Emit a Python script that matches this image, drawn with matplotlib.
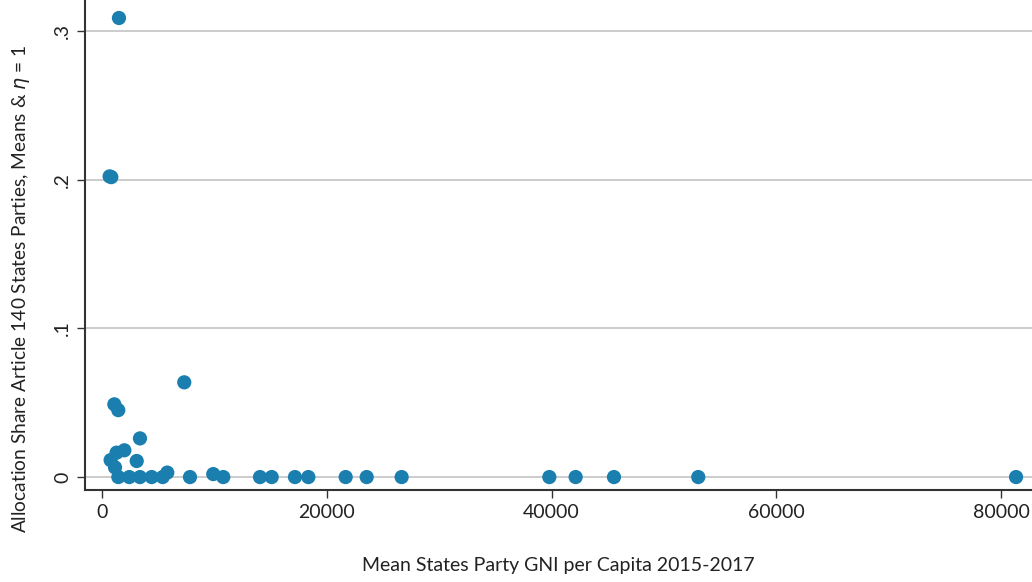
import matplotlib.pyplot as plt

# mean GNI per capita (x) and allocation share (y)
gni = [1512, 680, 830, 7320, 1100, 1450, 3380, 770, 1300, 1990, 3090, 1160,
       1455, 2430, 3380, 4420, 5400, 5810, 7830, 9900, 10790, 14060, 15100,
       17170, 18360, 21680, 23550, 26660, 39800, 42140, 45550, 53050, 81320]
share = [0.3087, 0.2022, 0.2017, 0.0637, 0.0489, 0.045, 0.026, 0.0114, 0.0164,
         0.018, 0.0108, 0.0065, 0.0, 0.0, 0.0, 0.0, 0.0, 0.003, 0.0, 0.002,
         0.0, 0.0, 0.0, 0.0, 0.0, 0.0, 0.0, 0.0, 0.0, 0.0, 0.0, 0.0, 0.0]

y_ticks = [0, 0.1, 0.2, 0.3]
y_labels = ["0", ".1", ".2", ".3"]
x_ticks = [0, 20000, 40000, 60000, 80000]

plt.rcParams['font.family'] = ['Lato', 'DejaVu Sans']

fig = plt.figure(figsize=(10.32, 5.82), dpi=100)
ax = fig.add_axes([85 / 1032, 92 / 582, 947 / 1032, 490 / 582])

for yv in y_ticks:
    ax.axhline(yv, color="#c8c8c8", lw=1.3, zorder=1)

ax.scatter(gni, share, s=105, color="#1a7fae", edgecolors="none", zorder=3)

ax.set_xlim(-1510, 82740)
ax.set_ylim(-0.0087, 0.3208)

ax.set_xticks(x_ticks)
ax.set_xticklabels([str(v) for v in x_ticks])
ax.set_yticks(y_ticks)
ax.set_yticklabels(y_labels, rotation=90, va="center")

for side in ["top", "right"]:
    ax.spines[side].set_visible(False)
for side in ["left", "bottom"]:
    ax.spines[side].set_linewidth(1.5)
    ax.spines[side].set_color("#333333")

ax.tick_params(axis="both", direction="out", length=6, width=1, color="#333333",
               labelsize=14, labelcolor="#222222", pad=4)

ax.set_xlabel("Mean States Party GNI per Capita 2015-2017", fontsize=14,
              color="#222222", labelpad=26)
ax.set_ylabel(r"Allocation Share Article 140 States Parties, Means & $\eta$ = 1",
              fontsize=13.8, color="#222222")
ax.yaxis.set_label_coords(-0.056, 0.41)

fig.savefig("out.png", dpi=100)
